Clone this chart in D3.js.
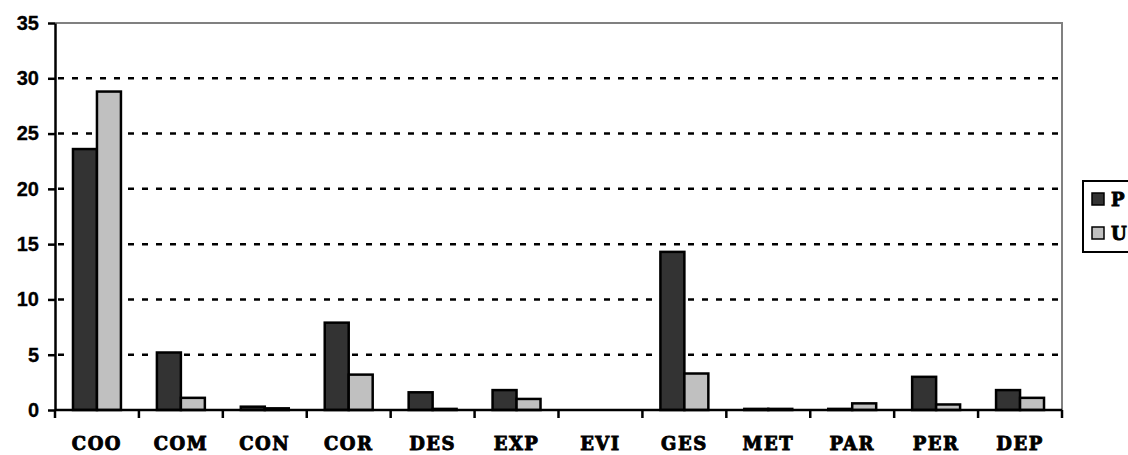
<!DOCTYPE html>
<html>
<head>
<meta charset="utf-8">
<script src="https://cdn.jsdelivr.net/npm/d3@7"></script>
<style>
  body { margin: 0; background: #fff; }
  svg { display: block; }
</style>
</head>
<body>
<svg></svg>
<script>
const width = 1128;
const height = 455;

// data
var categories = ["COO", "COM", "CON", "COR", "DES", "EXP", "EVI", "GES", "MET", "PAR", "PER", "DEP"];
var seriesNames = ["P", "U"];
var valuesP = [23.6, 5.2, 0.3, 7.9, 1.6, 1.8, 0, 14.3, 0.1, 0.1, 3.0, 1.8];
var valuesU = [28.8, 1.1, 0.15, 3.2, 0.1, 1.0, 0, 3.3, 0.1, 0.6, 0.5, 1.1];
var yTicks = [0, 5, 10, 15, 20, 25, 30, 35];
var colors = ["#333333", "#c0c0c0"];

var margin = {left: 55, right: 66, top: 23, bottom: 45};

var svg = d3.select("svg")
  .attr("width", width)
  .attr("height", height);

var xScale = d3.scaleBand()
  .domain(categories)
  .range([margin.left, width - margin.right]);
var inner = d3.scaleBand()
  .domain(seriesNames)
  .range([0, xScale.bandwidth()])
  .paddingInner(0)
  .paddingOuter(0.75);
var yScale = d3.scaleLinear()
  .domain([0, 35])
  .range([height - margin.bottom, margin.top]);

var x0 = margin.left, x1 = width - margin.right;
var yTop = yScale(35), yBot = yScale(0);

// plot border (grey top + right)
svg.append("path")
  .attr("d", `M${x0},${yTop}H${x1}V${yBot}`)
  .attr("fill", "none")
  .attr("stroke", "#808080")
  .attr("stroke-width", 2);

// dashed gridlines
svg.selectAll("line.grid")
  .data(yTicks.filter(d => d > 0 && d < 35))
  .enter()
  .append("line")
  .attr("class", "grid")
  .attr("x1", x0)
  .attr("x2", x1)
  .attr("y1", d => yScale(d))
  .attr("y2", d => yScale(d))
  .attr("stroke", "#000")
  .attr("stroke-width", 2.5)
  .attr("stroke-dasharray", "6,8")
  .attr("stroke-dashoffset", -3);

// bars
var rows = categories.map((c, i) => ({cat: c, vals: [valuesP[i], valuesU[i]]}));
var groups = svg.selectAll("g.cat")
  .data(rows)
  .enter()
  .append("g")
  .attr("class", "cat")
  .attr("transform", d => `translate(${xScale(d.cat)},0)`);

groups.selectAll("rect")
  .data(d => d.vals.map((v, j) => ({s: seriesNames[j], v: v, j: j})))
  .enter()
  .append("rect")
  .attr("x", d => inner(d.s))
  .attr("width", inner.bandwidth())
  .attr("y", d => yScale(d.v))
  .attr("height", d => yBot - yScale(d.v))
  .attr("fill", d => colors[d.j])
  .attr("stroke", "#000")
  .attr("stroke-width", 2.5);

// y axis
var yAxis = svg.append("g")
  .attr("transform", `translate(${x0},0)`)
  .call(d3.axisLeft(yScale).tickValues(yTicks).tickSize(7).tickSizeOuter(0).tickPadding(9));
yAxis.select(".domain").attr("stroke-width", 2.5);
yAxis.selectAll(".tick line").attr("stroke-width", 2.5);
yAxis.selectAll("text")
  .attr("font-family", "'Liberation Sans', Arial, sans-serif")
  .attr("font-weight", "bold")
  .attr("font-size", 20)
  .attr("fill", "#000")
  .attr("stroke", "#000")
  .attr("stroke-width", 0.3);

// x axis with ticks on category boundaries
var xAxisG = svg.append("g");
xAxisG.append("line")
  .attr("x1", x0).attr("x2", x1)
  .attr("y1", yBot).attr("y2", yBot)
  .attr("stroke", "#000").attr("stroke-width", 2.5);
var bounds = categories.map(c => xScale(c)).concat([x1]);
xAxisG.selectAll("line.tk")
  .data(bounds)
  .enter()
  .append("line")
  .attr("class", "tk")
  .attr("x1", d => d).attr("x2", d => d)
  .attr("y1", yBot).attr("y2", yBot + 8)
  .attr("stroke", "#000").attr("stroke-width", 2.5);
xAxisG.selectAll("text")
  .data(categories)
  .enter()
  .append("text")
  .attr("x", d => xScale(d) + xScale.bandwidth() / 2)
  .attr("y", yBot + 40)
  .attr("text-anchor", "middle")
  .attr("font-family", "'DejaVu Serif', serif")
  .attr("font-weight", "bold")
  .attr("font-size", 18)
  .attr("letter-spacing", 1.5)
  .attr("stroke", "#000")
  .attr("stroke-width", 0.9)
  .text(d => d);

// legend
var legend = svg.append("g");
legend.append("rect")
  .attr("x", 1083).attr("y", 181)
  .attr("width", 80).attr("height", 71)
  .attr("fill", "#fff")
  .attr("stroke", "#000").attr("stroke-width", 2);
var items = legend.selectAll("g.item")
  .data(seriesNames)
  .enter()
  .append("g")
  .attr("class", "item")
  .attr("transform", (d, i) => `translate(1092,${193 + i * 34})`);
items.append("rect")
  .attr("width", 12).attr("height", 12)
  .attr("fill", (d, i) => colors[i])
  .attr("stroke", "#000").attr("stroke-width", 1.5);
items.append("text")
  .attr("x", 19)
  .attr("y", 13)
  .attr("font-family", "'DejaVu Serif', serif")
  .attr("font-weight", "bold")
  .attr("font-size", 18)
  .attr("stroke", "#000")
  .attr("stroke-width", 0.9)
  .text(d => d);
</script>
</body>
</html>
